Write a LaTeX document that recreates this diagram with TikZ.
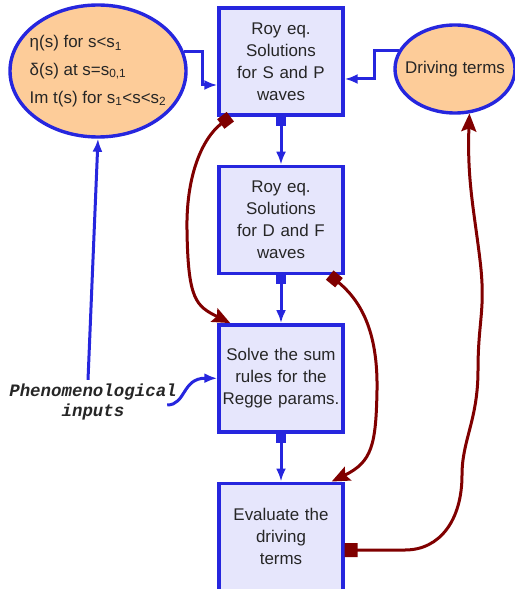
\documentclass[tikz,border=0pt]{standalone}
\usepackage{fontspec}
\setmainfont{Liberation Sans}
\setmonofont{Liberation Mono}
\usepackage{xcolor}
\usepackage{tikz}
\usetikzlibrary{shapes,positioning,calc,arrows.meta}

\definecolor{boxfill}{RGB}{230,230,252}
\definecolor{flowblue}{RGB}{38,38,222}
\definecolor{peach}{RGB}{253,204,153}
\definecolor{darkred}{RGB}{128,0,0}

\tikzset{
  stage/.style={draw=flowblue, fill=boxfill, line width=3.4bp, minimum width=124bp,
    minimum height=107bp, text width=120bp, align=center, inner sep=2bp,
    font=\fontsize{17}{22}\selectfont, text=black!85},
  blob/.style={ellipse, draw=flowblue, fill=peach, line width=3.4bp, inner ysep=0pt,
    font=\fontsize{17}{28}\selectfont, text=black!85},
  flow/.style={draw=flowblue, line width=3bp, -{Latex[length=13bp,width=10bp]}},
  sqflow/.style={flow, {Square[length=9bp,width=10bp]}-{Latex[length=13bp,width=10bp]}},
  feedback/.style={draw=darkred, line width=3bp,
    {Square[length=12bp,width=12bp]}-{Stealth[length=18bp,width=15bp,inset=3bp]}},
}

\begin{document}
\begin{tikzpicture}[x=1bp, y=-1bp]
    \useasboundingbox (0,0) rectangle (515,589);
    \clip (0,0) rectangle (515,589);

    % Main column
    \node[stage] (roySP) at (281,61.5) {Roy eq.\\ Solutions\\ for S and P\\ waves};
    \node[stage, below=48bp of roySP] (royDF) {Roy eq.\\ Solutions\\ for D and F\\ waves};
    \node[stage, below=48bp of royDF] (sumrules) {Solve the sum\\ rules for the\\ Regge params.};
    \node[stage, below=48bp of sumrules] (evaldriv) {Evaluate the\\ driving\\ terms};

    % Inputs
    \node[blob, minimum width=176bp, minimum height=132bp, inner xsep=-9bp, align=left] (inputs) at (98,71)
      {η(s) for s<s\textsubscript{1}\\ δ(s) at s=s\textsubscript{0,1}\\ Im t(s) for s\textsubscript{1}<s<s\textsubscript{2}};
    \node[blob, minimum width=120bp, minimum height=88bp, inner xsep=-14bp] (driving) at (455,69) {Driving terms};
    \node[align=center, font=\fontsize{17.5}{21}\selectfont\ttfamily\bfseries\itshape, text=black!85] (phenom) at (93,402)
      {Phenomenological\\ inputs};

    % Blue flow
    \draw[flow] (inputs.13) -- ++(19,0) |- ([yshift=-23.5bp]roySP.west);
    \draw[flow] (driving.162) -- ++(-24,0) |- ([yshift=-17.5bp]roySP.east);
    \draw[sqflow] (roySP) -- (royDF);
    \draw[sqflow] (royDF) -- (sumrules);
    \draw[sqflow] (sumrules) -- (evaldriv);
    \draw[flow] ([xshift=-5bp]phenom.north) -- (inputs.south);
    \draw[flow] ([xshift=-13bp,yshift=-3bp]phenom.east) .. controls (186,405) and (182,378) .. (sumrules.west);

    % Feedback loops
    \draw[feedback]
      ([xshift=13bp]roySP.south west) .. controls (200,140) and (186,180) .. (187,230)
      .. controls (188,300) and (196,306) .. ([xshift=13bp]sumrules.north west);
    \draw[feedback]
      ([xshift=-15bp]royDF.south east) .. controls (360,300) and (378,330) .. (377,390)
      .. controls (376,445) and (372,462) .. ([xshift=-13bp]evaldriv.north east);
    \draw[feedback, {Square[length=13bp,width=14bp]}-{Stealth[length=18bp,width=15bp,inset=3bp]}]
      ([yshift=-13.5bp]evaldriv.east) -- (405,550) .. controls (440,550) and (462,520) .. (462,475)
      .. controls (462,440) and (478,420) .. (478,370) .. controls (478,320) and (486,310) .. (480,260)
      .. controls (474,210) and (467,180) .. (driving.-72);
\end{tikzpicture}
\end{document}
